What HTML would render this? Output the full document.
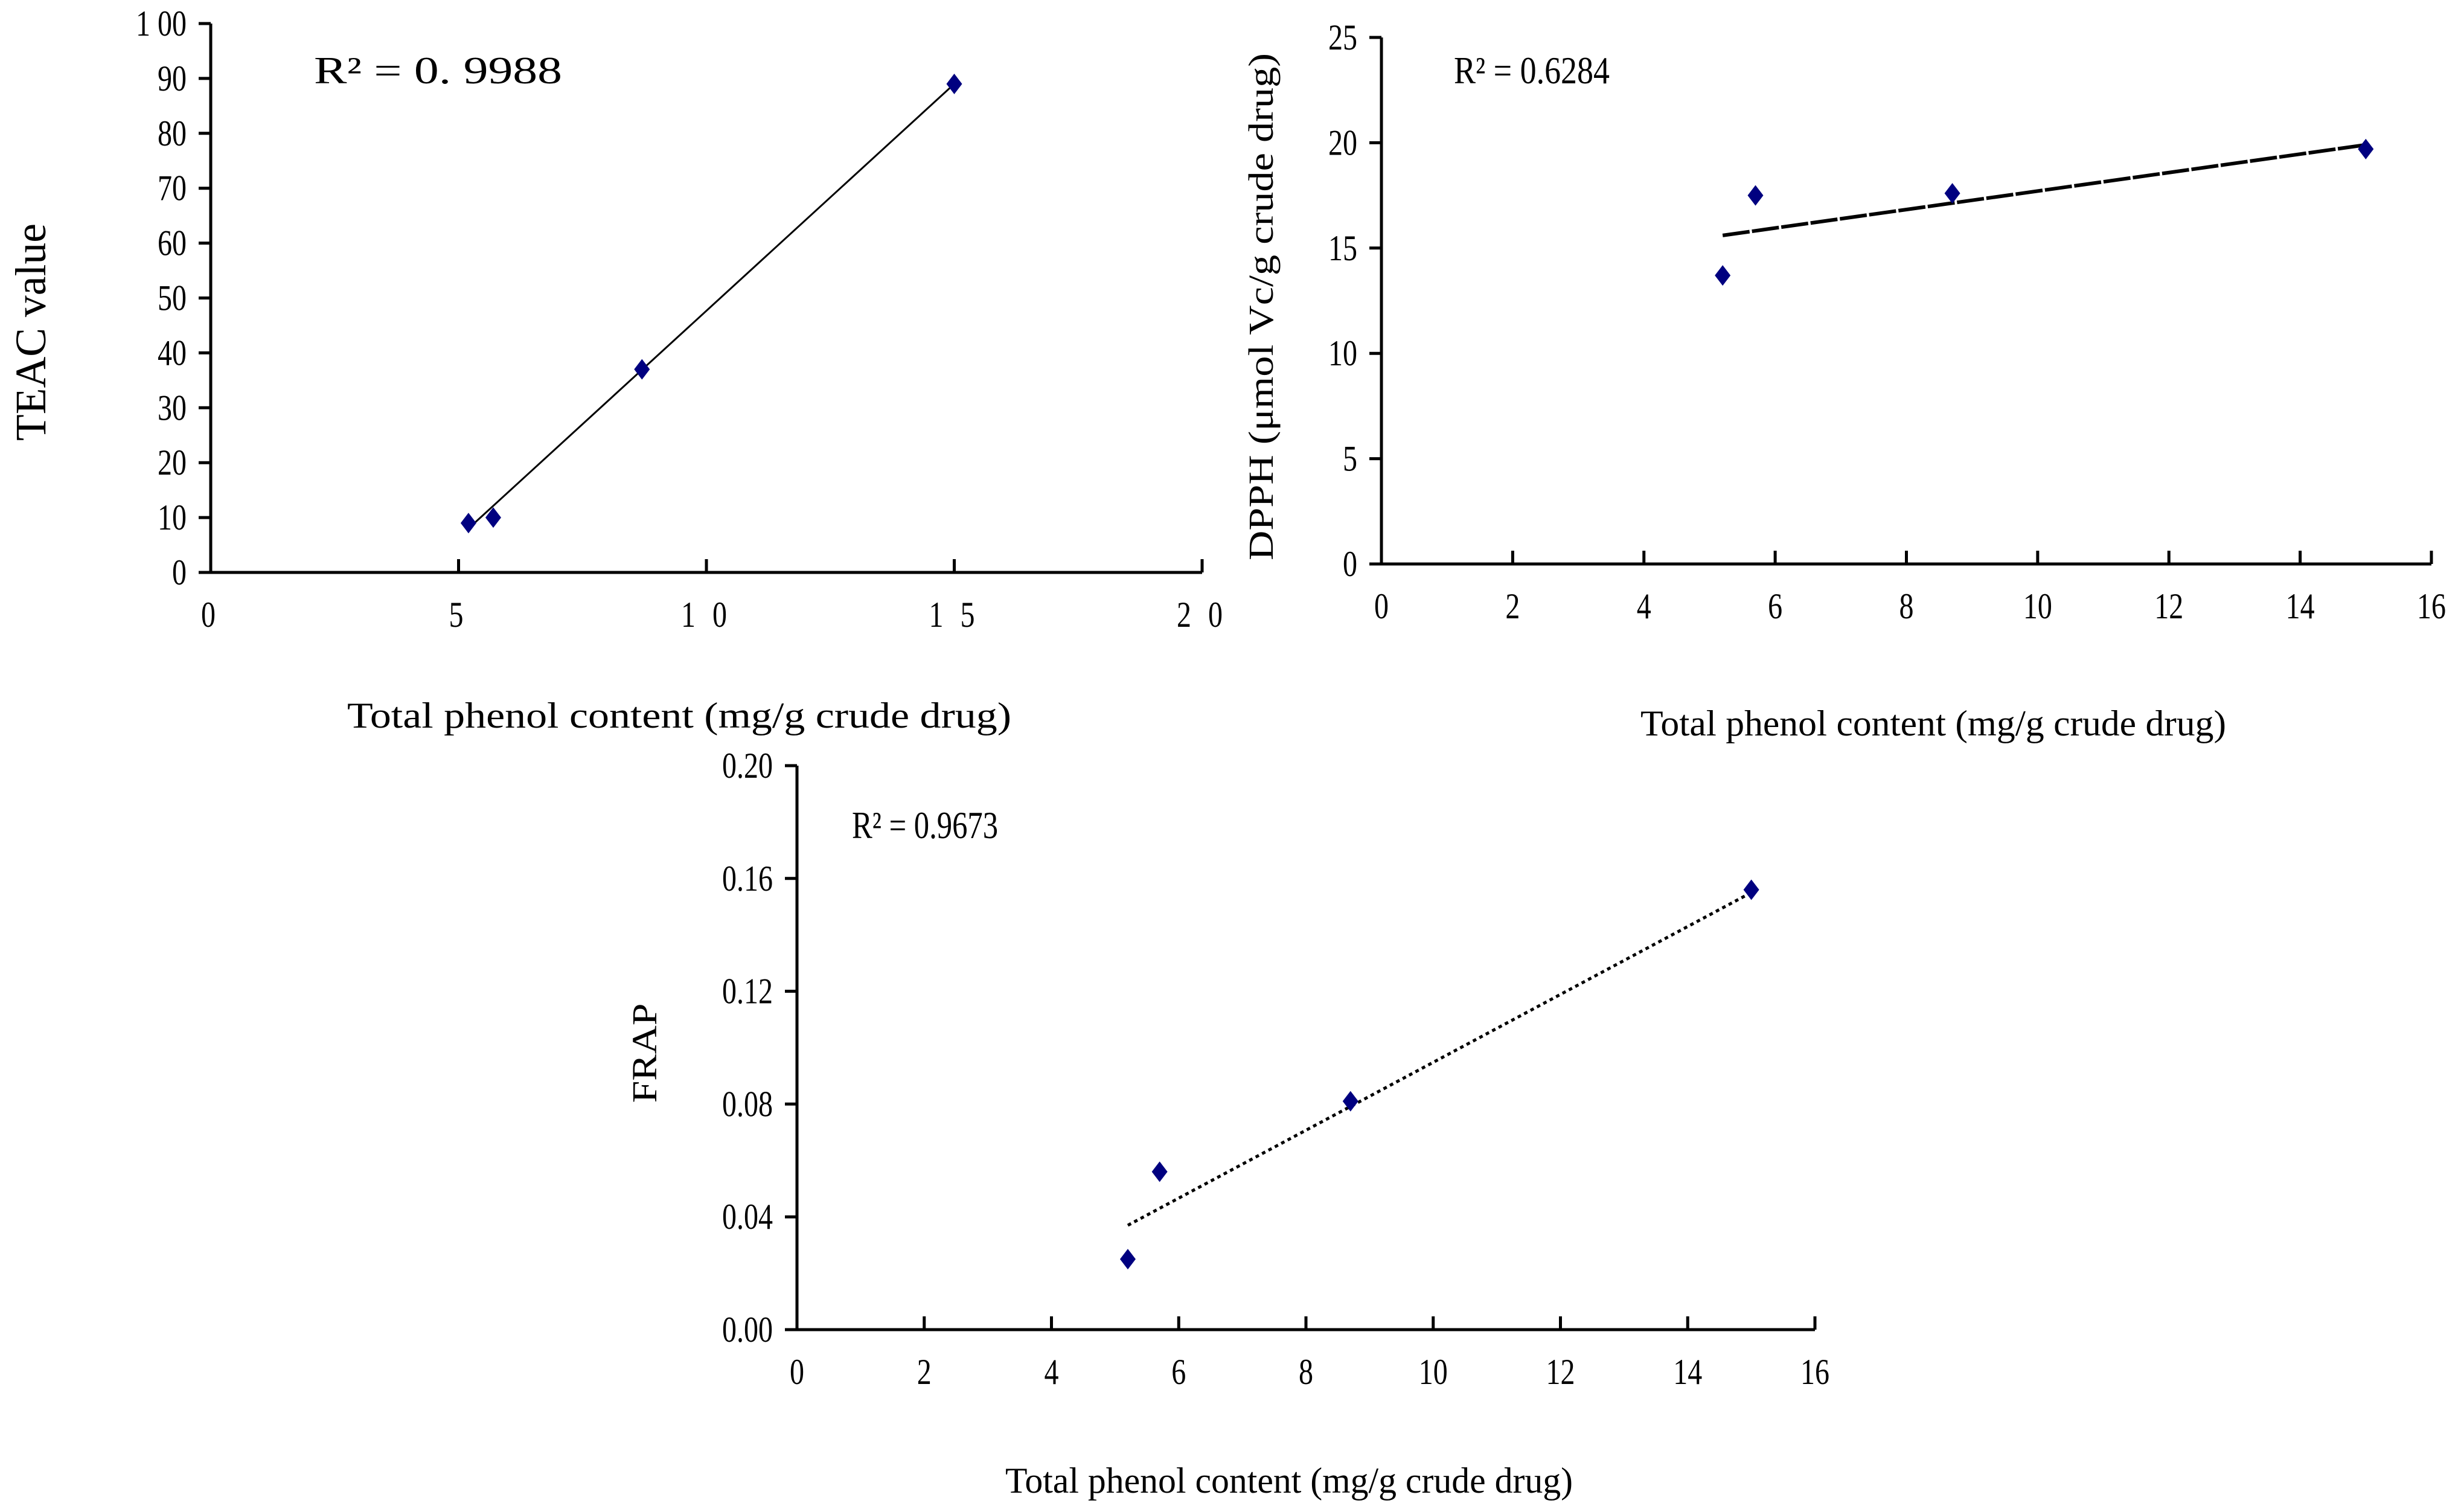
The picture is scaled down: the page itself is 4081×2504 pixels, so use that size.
<!DOCTYPE html>
<html><head><meta charset="utf-8"><style>
html,body{margin:0;padding:0;background:#fff;}
svg{display:block;}
text{font-family:"Liberation Serif","Noto Serif CJK SC",serif;fill:#000;}
</style></head><body>
<svg id="fig" width="4081" height="2504" viewBox="0 0 4081 2504" xmlns="http://www.w3.org/2000/svg"></svg>
<script>
// Panel A: TEAC
const teacX = [5.2, 5.7, 8.7, 15.0];
const teacY = [9, 10, 37, 89];
const teacFit = [[5.2, 8], [15.0, 89]];
const teacXTicks = [0, 5, 10, 15, 20];
const teacYTicks = [0, 10, 20, 30, 40, 50, 60, 70, 80, 90, 100];
const teacXLabels = ["0", "5", "1 0", "1 5", "2 0"];
const teacYLabels = ["0", "10", "20", "30", "40", "50", "60", "70", "80", "90", "1 00"];
// Panel B: DPPH
const dpphX = [5.2, 5.7, 8.7, 15.0];
const dpphY = [13.7, 17.5, 17.6, 19.7];
const dpphFit = [[5.2, 15.6], [15.0, 19.9]];
const dpphXTicks = [0, 2, 4, 6, 8, 10, 12, 14, 16];
const dpphYTicks = [0, 5, 10, 15, 20, 25];
const dpphXLabels = ["0", "2", "4", "6", "8", "10", "12", "14", "16"];
const dpphYLabels = ["0", "5", "10", "15", "20", "25"];
// Panel C: FRAP
const frapX = [5.2, 5.7, 8.7, 15.0];
const frapY = [0.025, 0.056, 0.081, 0.156];
const frapFit = [[5.2, 0.037], [15.0, 0.155]];
const frapXTicks = [0, 2, 4, 6, 8, 10, 12, 14, 16];
const frapYTicks = [0, 0.04, 0.08, 0.12, 0.16, 0.20];
const frapXLabels = ["0", "2", "4", "6", "8", "10", "12", "14", "16"];
const frapYLabels = ["0.00", "0.04", "0.08", "0.12", "0.16", "0.20"];

const NS = "http://www.w3.org/2000/svg";
const svg = document.getElementById("fig");
function mk(tag, attrs, parent) {
  const e = document.createElementNS(NS, tag);
  for (const k in attrs) e.setAttribute(k, attrs[k]);
  (parent || svg).appendChild(e);
  return e;
}

function panel(cfg) {
  const g = mk("g", {});
  
  
  const xmin = cfg.xTicks[0], xmax = cfg.xTicks[cfg.xTicks.length - 1];
  const ymin = cfg.yTicks[0], ymax = cfg.yTicks[cfg.yTicks.length - 1];
  const sx = v => cfg.x0 + (v - xmin) / (xmax - xmin) * (cfg.x1 - cfg.x0);
  const sy = v => cfg.y0 - (v - ymin) / (ymax - ymin) * (cfg.y0 - cfg.y1);
  const ax = mk("path", {d: `M${cfg.x0},${cfg.y1} L${cfg.x0},${cfg.y0} L${cfg.x1},${cfg.y0}`, fill: "none", stroke: "#000", "stroke-width": 5}, g);
  
  
  cfg.yTicks.forEach((t, i) => {
    const y = sy(t);
    mk("line", {x1: cfg.x0 - 20, x2: cfg.x0, y1: y, y2: y, stroke: "#000", "stroke-width": 5}, g);
    const tx = mk("text", {x: cfg.x0 - 40, y: y + 20, "font-size": 60, "text-anchor": "end", transform: `translate(${cfg.x0 - 40},0) scale(0.8,1) translate(${-(cfg.x0 - 40)},0)`}, g);
    tx.textContent = cfg.yLabels[i];
    
    
  });
  cfg.xTicks.forEach((t, i) => {
    const x = sx(t);
    mk("line", {x1: x, x2: x, y1: cfg.y0 - 22, y2: cfg.y0, stroke: "#000", "stroke-width": 5}, g);
    const tx = mk("text", {x: x, y: cfg.y0 + 90, "font-size": 60, "text-anchor": "middle", "letter-spacing": cfg.xls, transform: `translate(${x},0) scale(0.8,1) translate(${-x},0)`}, g);
    tx.textContent = cfg.xLabels[i];
    
    
  });
  const fl = mk("line", {x1: sx(cfg.fit[0][0]), y1: sy(cfg.fit[0][1]), x2: sx(cfg.fit[1][0]), y2: sy(cfg.fit[1][1]), stroke: "#000", "stroke-width": cfg.fitW, "stroke-dasharray": cfg.dash}, g);
  
  
  cfg.xs.forEach((xv, i) => {
    const cx = sx(xv), cy = sy(cfg.ys[i]);
    const p = mk("path", {d: `M${cx},${cy - 17} L${cx + 13},${cy} L${cx},${cy + 17} L${cx - 13},${cy} Z`, fill: "#000080"}, g);
    
    
  });
  const r = mk("text", {x: cfg.rx, y: cfg.ry, "font-size": 64, textLength: cfg.rl, lengthAdjust: "spacingAndGlyphs"}, g);
  r.textContent = cfg.r2;
  
  
  const xt = mk("text", {x: cfg.xtx, y: cfg.xty, "font-size": 60, "text-anchor": "middle", textLength: cfg.xtl, lengthAdjust: "spacingAndGlyphs"}, g);
  xt.textContent = "Total phenol content (mg/g crude drug)";
  
  
  const yt = mk("text", {x: 0, y: 0, "font-size": cfg.ytf, "text-anchor": "middle", textLength: cfg.ytl, lengthAdjust: "spacingAndGlyphs", transform: `translate(${cfg.ytx},${cfg.yty}) rotate(-90)`}, g);
  yt.textContent = cfg.ytitle;
  
  
}

panel({name: "teac-chart", x0: 349, x1: 1991, y0: 948, y1: 39, xTicks: teacXTicks, yTicks: teacYTicks, xLabels: teacXLabels, yLabels: teacYLabels, xls: 10,
  xs: teacX, ys: teacY, fit: teacFit, fitW: 3, dash: "none", r2: "R² = 0. 9988", rx: 520, ry: 138, rl: 411,
  xtx: 1125, xty: 1205, xtl: 1100, ytitle: "TEAC value", ytx: 75, yty: 550, ytf: 72, ytl: 360});
panel({name: "dpph-chart", x0: 2288, x1: 4027, y0: 934, y1: 62, xTicks: dpphXTicks, yTicks: dpphYTicks, xLabels: dpphXLabels, yLabels: dpphYLabels, xls: 0,
  xs: dpphX, ys: dpphY, fit: dpphFit, fitW: 6, dash: "45 4", r2: "R² = 0.6284", rx: 2408, ry: 138, rl: 258,
  xtx: 3202, xty: 1218, xtl: 970, ytitle: "DPPH (μmol Vc/g crude drug)", ytx: 2108, yty: 508, ytf: 58, ytl: 840});
panel({name: "frap-chart", x0: 1320, x1: 3006, y0: 2202, y1: 1268, xTicks: frapXTicks, yTicks: frapYTicks, xLabels: frapXLabels, yLabels: frapYLabels, xls: 0,
  xs: frapX, ys: frapY, fit: frapFit, fitW: 5, dash: "6 6", r2: "R² = 0.9673", rx: 1411, ry: 1388, rl: 242,
  xtx: 2135, xty: 2472, xtl: 940, ytitle: "FRAP", ytx: 1087, yty: 1744, ytf: 58, ytl: 165});
</script>
</body></html>
